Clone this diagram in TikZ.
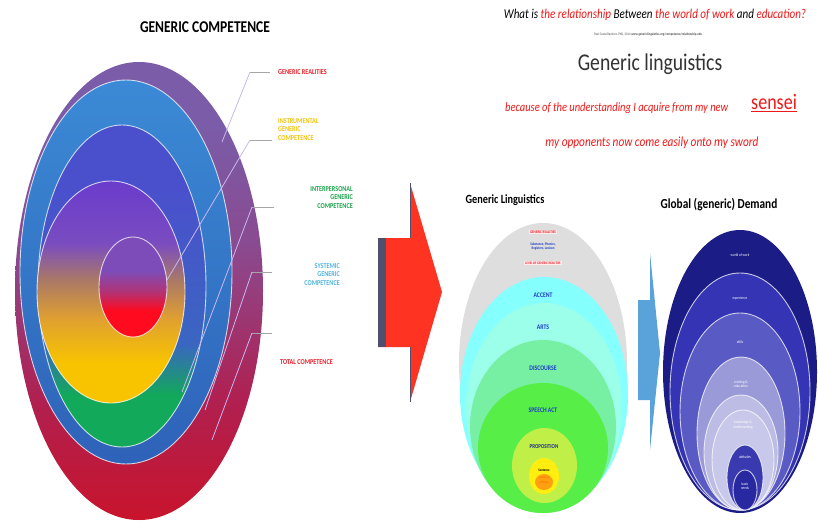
\documentclass[tikz,border=0pt]{standalone}
\usepackage{fontspec}
\setmainfont{Carlito}
\newfontfamily\cond[FakeStretch=0.82]{Carlito}
\usetikzlibrary{shapes.geometric}
\definecolor{cPurpTop}{HTML}{7A5CA8}
\definecolor{cPurpMid}{HTML}{8A4A90}
\definecolor{cRedO}{HTML}{C8142C}
\definecolor{cRedO2}{HTML}{B02050}
\definecolor{cBlueR}{HTML}{3B8AD6}
\definecolor{cBlueRb}{HTML}{2E62B8}
\definecolor{cL3top}{HTML}{4A50CC}
\definecolor{cL3mid}{HTML}{3A66C2}
\definecolor{cL3g}{HTML}{12A95A}
\definecolor{cL4top}{HTML}{6A3CCC}
\definecolor{cL4p}{HTML}{7A4CC0}
\definecolor{cL4br}{HTML}{A87868}
\definecolor{cL4or}{HTML}{E0A030}
\definecolor{cL4y}{HTML}{F8C400}
\definecolor{cInTop}{HTML}{7E4CB8}
\definecolor{cInMid}{HTML}{B03478}
\definecolor{cInRed}{HTML}{FF0A1E}
\definecolor{labRed}{HTML}{E8202A}
\definecolor{labYel}{HTML}{F2C20C}
\definecolor{labGrn}{HTML}{1AA34A}
\definecolor{labBlu}{HTML}{52B4DC}
\definecolor{leadC}{HTML}{C8B8F0}
\definecolor{arrowRed}{HTML}{FF3322}
\definecolor{slate}{HTML}{50506E}
\definecolor{arrowBlue}{HTML}{5AA2DA}
\definecolor{gGray}{HTML}{DEDEDE}
\definecolor{gCyan}{HTML}{86FFFF}
\definecolor{gAqua}{HTML}{9CFFEA}
\definecolor{gMint}{HTML}{78F0A4}
\definecolor{gGreen}{HTML}{58EE48}
\definecolor{gYG}{HTML}{C0F048}
\definecolor{gYel}{HTML}{FFEE10}
\definecolor{gOr}{HTML}{FFA010}
\definecolor{gBlue}{HTML}{1E3CC8}
\definecolor{gNavy}{HTML}{1C2A8C}
\definecolor{dN1}{HTML}{1C1C86}
\definecolor{dN2}{HTML}{3434B4}
\definecolor{dN3}{HTML}{5A5AC4}
\definecolor{dN4}{HTML}{9A9AD8}
\definecolor{dN5}{HTML}{BCBCE4}
\definecolor{dN6}{HTML}{C8C8EA}
\definecolor{dN7}{HTML}{3A3AB0}
\definecolor{dN8}{HTML}{2828A0}
\definecolor{txtGray}{HTML}{333333}
\definecolor{textRed}{HTML}{F01818}
\pgfdeclareverticalshading{outerS}{100bp}{color(0bp)=(cRedO); color(25bp)=(cRedO); color(38bp)=(cRedO2); color(55bp)=(cPurpMid); color(68bp)=(cPurpTop); color(100bp)=(cPurpTop)}
\pgfdeclareverticalshading{l3S}{100bp}{color(0bp)=(cL3g); color(25bp)=(cL3g); color(33bp)=(cL3g); color(41bp)=(cL3mid); color(65bp)=(cL3top); color(100bp)=(cL3top)}
\pgfdeclareverticalshading{l4S}{100bp}{color(0bp)=(cL4y); color(25bp)=(cL4y); color(34bp)=(cL4y); color(44bp)=(cL4or); color(53bp)=(cL4br); color(61bp)=(cL4p); color(75bp)=(cL4top); color(100bp)=(cL4top)}
\pgfdeclareverticalshading{inS}{100bp}{color(0bp)=(cInRed); color(25bp)=(cInRed); color(38bp)=(cInRed); color(48bp)=(cInMid); color(58bp)=(cInTop); color(100bp)=(cInTop)}
\tikzset{
  ring/.style={draw=white, draw opacity=0.75, line width=0.9pt},
  leader/.style={draw=leadC, line width=0.8pt},
  stub/.style={draw=gray!70, line width=0.8pt},
  lab/.style={font=\cond\bfseries\fontsize{7.5}{8.5}\selectfont, inner sep=0pt},
  glab/.style={font=\cond\bfseries\fontsize{7}{7}\selectfont, text=gBlue, inner sep=0pt},
  dlab/.style={font=\cond\fontsize{4}{4.5}\selectfont, text=white, inner sep=0pt, align=center},
  ttl/.style={font=\cond\bfseries\fontsize{12.5}{13}\selectfont, inner sep=0pt},
  redit/.style={font=\cond\itshape\fontsize{13}{13}\selectfont, text=textRed, inner sep=0pt}
}
\begin{document}
\begin{tikzpicture}[x=1pt,y=-1pt]
\useasboundingbox[fill=white] (0,0) rectangle (818,524);
% ---------------- left target
\node[font=\cond\bfseries\fontsize{16.5}{16.5}\selectfont, inner sep=0pt] (gc) at (205,27) {GENERIC COMPETENCE};
\shade[shading=outerS] (139,291) ellipse [x radius=124pt, y radius=229pt];
\shade[top color=cBlueR, bottom color=cBlueRb, ring] (126,272) ellipse [x radius=106pt, y radius=192pt];
\shade[shading=l3S, ring] (122,286) ellipse [x radius=84pt, y radius=161pt];
\shade[shading=l4S, ring] (111,292) ellipse [x radius=74pt, y radius=111pt];
\shade[shading=inS, ring] (133,287) ellipse [x radius=34pt, y radius=50pt];
% leaders
\coordinate (s1) at (250,72);  \coordinate (e1) at (222,142);
\coordinate (s2) at (250,140); \coordinate (e2) at (167,280);
\coordinate (s3) at (252,207); \coordinate (e3) at (182,392);
\coordinate (s4) at (252,272); \coordinate (e4) at (205,410);
\coordinate (s5) at (252,333); \coordinate (e5) at (212,440);
\coordinate (t1) at (270,72);
\coordinate (t2) at (272,140);
\coordinate (t3) at (274,207);
\coordinate (t4) at (272,272);
\coordinate (t5) at (272,333);
\foreach \i in {1,...,5} {
  \draw[stub] (s\i) -- (t\i);
  \draw[leader] (s\i) -- (e\i);
}
\node[lab, text=labRed, anchor=west] (gr) at (278,72) {GENERIC REALITIES};
\node[lab, text=labYel, anchor=north west, align=left] (ig) at (278,118) {INSTRUMENTAL\\GENERIC\\COMPETENCE};
\node[lab, text=labGrn, anchor=north east, align=right] (pg) at (353,186) {INTERPERSONAL\\GENERIC\\COMPETENCE};
\node[lab, text=labBlu, anchor=north east, align=right] (sg) at (340,263) {SYSTEMIC\\GENERIC\\COMPETENCE};
\node[lab, text=labRed, anchor=west] (tc) at (280,362) {TOTAL COMPETENCE};
% ---------------- red arrow
\fill[arrowRed] (378,238) -- (410,238) -- (410,183) -- (442,292) -- (410,402) -- (410,347) -- (378,347) -- cycle;
\fill[slate] (378,238) rectangle (386,347);
\draw[slate, line width=1pt] (410,183) -- (410,238) (410,347) -- (410,402);
% ---------------- top right text
\node[font=\cond\itshape\fontsize{13.5}{13.5}\selectfont, inner sep=0pt] (q) at (655,15)
  {What is \textcolor{textRed}{the relationship} Between \textcolor{textRed}{the world of work} and \textcolor{textRed}{education?}};
\node[font=\cond\fontsize{3.6}{4}\selectfont, text=black!70, inner sep=0pt] (src) at (648,35)
  {Paul Costa-Ramirez, PhD, 2014 \textbf{www.genericlinguistics.org/competence/relationship.edu}};
\node[font=\cond\fontsize{24}{24}\selectfont, text=txtGray, inner sep=0pt] (gl) at (650,64) {Generic linguistics};
\node[redit, anchor=west, font=\cond\itshape\fontsize{12.8}{13}\selectfont] (b1) at (505,108) {because of the understanding I acquire from my new};
\node[font=\cond\fontsize{22}{22}\selectfont, text=textRed, inner sep=0pt, anchor=west] (sen) at (751,103) {\underline{sensei}};
\node[redit, font=\cond\itshape\fontsize{13.8}{14}\selectfont] (b2) at (652,143) {my opponents now come easily onto my sword};
% ---------------- middle target
\node[ttl] (glt) at (505,200) {Generic Linguistics};
\fill[gGray] (543,363) ellipse [x radius=84pt, y radius=140pt];
\fill[gCyan] (544,394) ellipse [x radius=84pt, y radius=117pt];
\fill[gAqua] (544,407.5) ellipse [x radius=78pt, y radius=104.5pt];
\fill[gMint] (543,426.5) ellipse [x radius=73pt, y radius=86.5pt];
\fill[gGreen] (543,448) ellipse [x radius=65pt, y radius=65pt];
\fill[gYG] (544.5,465.5) ellipse [x radius=32.5pt, y radius=37.5pt];
\fill[gYel] (544,476) ellipse [x radius=15pt, y radius=18pt];
\fill[gOr] (544,482) ellipse [x radius=9pt, y radius=8pt];
\node[font=\cond\bfseries\fontsize{4}{4}\selectfont, text=labRed, fill=red!8, inner sep=1pt] (mgr) at (543,232) {GENERIC REALITIES};
\node[font=\cond\bfseries\fontsize{3.8}{4.4}\selectfont, text=gBlue, align=center, inner sep=0pt] (msub) at (543,246.5) {Substance, Phonics,\\Registers, Lexicon};
\node[font=\cond\bfseries\fontsize{3.6}{4}\selectfont, text=labRed, fill=red!8, inner sep=1pt] (mlev) at (543,263) {LEVEL OF GENERIC REALITIES};
\node[glab] (acc) at (543,295) {ACCENT};
\node[glab] (arts) at (543,327) {ARTS};
\node[glab] (disc) at (543,368) {DISCOURSE};
\node[glab] (sact) at (543,410) {SPEECH ACT};
\node[glab, text=gNavy, font=\cond\bfseries\fontsize{6}{6}\selectfont] (prop) at (544,447) {PROPOSITION};
\node[font=\cond\bfseries\fontsize{3.6}{4}\selectfont, inner sep=0pt] (sent) at (544,470) {Sentence};
\node[font=\cond\fontsize{3.4}{4.6}\selectfont, text=orange!80!red, align=center, inner sep=0pt] (wrd) at (544,480) {words \&\\phrases};
% ---------------- blue arrow
\fill[arrowBlue] (638,300) -- (650,300) -- (650,253) -- (660,353) -- (650,450) -- (650,400) -- (638,400) -- cycle;
% ---------------- right target
\node[ttl, font=\cond\bfseries\fontsize{13.8}{14}\selectfont] (gd) at (719,205) {Global (generic) Demand};
\fill[dN1] (740,371.5) ellipse [x radius=77pt, y radius=141.5pt];
\filldraw[fill=dN2, ring] (740,391.5) ellipse [x radius=70pt, y radius=118.5pt];
\filldraw[fill=dN3, ring] (740,411.5) ellipse [x radius=60pt, y radius=98.5pt];
\filldraw[fill=dN4, ring] (741,433.5) ellipse [x radius=44pt, y radius=76.5pt];
\filldraw[fill=dN5, ring] (741,452.5) ellipse [x radius=37pt, y radius=57.5pt];
\filldraw[fill=dN6, ring] (743,460) ellipse [x radius=31pt, y radius=50pt];
\filldraw[fill=dN7, ring] (745,477.5) ellipse [x radius=18pt, y radius=32.5pt];
\filldraw[fill=dN8, ring] (745,490) ellipse [x radius=12pt, y radius=20pt];
\node[dlab] (wow) at (740,255) {world of work};
\node[dlab] (exp) at (740,298) {experience};
\node[dlab] (skl) at (740,342) {skills};
\node[dlab] (trn) at (741,384) {training \&\\education};
\node[dlab] (knw) at (743,425) {knowledge \&\\understanding};
\node[dlab] (att) at (745,457) {attitudes};
\node[dlab] (bas) at (745,486) {basic\\needs};
\end{tikzpicture}
\end{document}
